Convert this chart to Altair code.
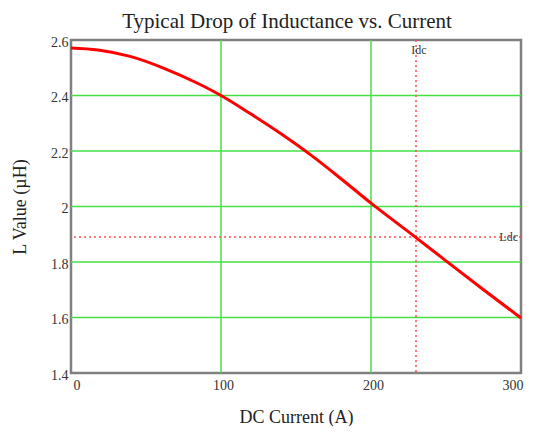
import altair as alt
import pandas as pd

current = [0, 18, 40, 62, 84, 100, 120, 140, 160, 180, 200, 230, 250, 275, 300]
inductance = [2.571, 2.564, 2.540, 2.498, 2.445, 2.400, 2.333, 2.262, 2.185, 2.100, 2.012, 1.888, 1.804, 1.700, 1.598]
x_grid = [100, 200]
y_grid = [1.6, 1.8, 2.0, 2.2, 2.4]
idc = 230
ldc = 1.89
x_ticks = [0, 100, 200, 300]
y_ticks = [1.4, 1.6, 1.8, 2.0, 2.2, 2.4, 2.6]

FONT = "Liberation Serif"
xs = alt.Scale(domain=[0, 300], nice=False, zero=False)
ys = alt.Scale(domain=[1.4, 2.6], nice=False, zero=False)

curve_df = pd.DataFrame({"I": current, "L": inductance})

xaxis = alt.Axis(values=x_ticks, grid=False, domain=False, ticks=False, labelPadding=5,
                 labelFont=FONT, labelFontSize=14, labelColor="#333", labelOffset=2,
                 title="DC Current (A)", titleFont=FONT, titleFontSize=18, titleFontWeight="normal",
                 titleColor="#222", titlePadding=16, labelFlush=True)
yaxis = alt.Axis(values=y_ticks, grid=False, domain=False, ticks=False, labelPadding=3,
                 labelFont=FONT, labelFontSize=14, labelColor="#333", labelOffset=2,
                 title="L Value (\u00b5H)", titleFont=FONT, titleFontSize=18, titleFontWeight="normal",
                 titleColor="#222", titlePadding=21, labelExpr="datum.value == 2 ? '2' : format(datum.value, '.1f')",
                 labelFlush=False)

vgrid = alt.Chart(pd.DataFrame({"x": x_grid})).mark_rule(color="#44e044", strokeWidth=1.5).encode(
    x=alt.X("x:Q", scale=xs, axis=xaxis))
hgrid = alt.Chart(pd.DataFrame({"y": y_grid})).mark_rule(color="#44e044", strokeWidth=1.5).encode(
    y=alt.Y("y:Q", scale=ys, axis=yaxis))

vdash = alt.Chart(pd.DataFrame({"x": [idc]})).mark_rule(color="#ff5050", strokeWidth=1.5, strokeDash=[2, 3]).encode(
    x=alt.X("x:Q", scale=xs))
hdash = alt.Chart(pd.DataFrame({"y": [ldc]})).mark_rule(color="#ff5050", strokeWidth=1.5, strokeDash=[2, 3]).encode(
    y=alt.Y("y:Q", scale=ys))

line = alt.Chart(curve_df).mark_line(color="#ff0000", strokeWidth=3, interpolate="monotone").encode(
    x=alt.X("I:Q", scale=xs), y=alt.Y("L:Q", scale=ys))

idc_lbl = alt.Chart(pd.DataFrame({"x": [idc], "t": ["Idc"]})).mark_text(
    font=FONT, fontSize=12, color="#333", baseline="top", dy=5, dx=3).encode(
    x=alt.X("x:Q", scale=xs), y=alt.value(0), text="t:N")
ldc_lbl = alt.Chart(pd.DataFrame({"y": [ldc], "t": ["Ldc"]})).mark_text(
    font=FONT, fontSize=12, color="#333", align="right", baseline="middle", dx=-3).encode(
    x=alt.value(450), y=alt.Y("y:Q", scale=ys), text="t:N")

chart = alt.layer(vgrid, hgrid, vdash, hdash, line, idc_lbl, ldc_lbl).properties(
    width=450, height=333,
    title=alt.TitleParams("Typical Drop of Inductance vs. Current", font=FONT, fontSize=21,
                          fontWeight="normal", color="#222", anchor="middle", offset=3, dx=-9),
    autosize=alt.AutoSizeParams(type="none"),
    padding={"left": 63, "top": 32, "right": 9, "bottom": 53},
).configure_view(stroke="#808080", strokeWidth=2.5)

chart.save("out.html", embed_options={"renderer": "svg", "actions": False})
